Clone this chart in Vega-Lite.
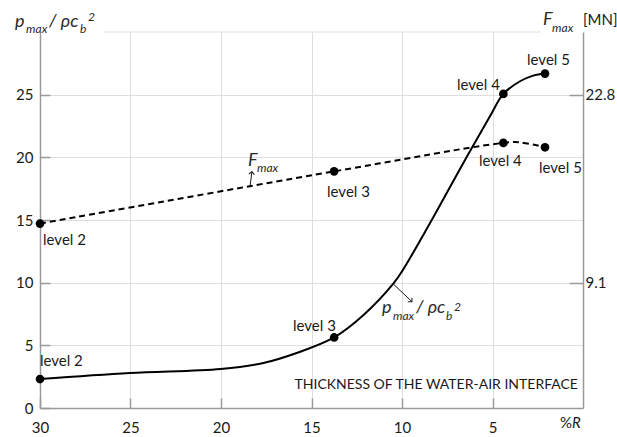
{
  "$schema": "https://vega.github.io/schema/vega-lite/v6.json",
  "width": 543,
  "height": 376,
  "autosize": {"type": "none"},
  "padding": {"left": 40, "top": 32, "right": 34, "bottom": 29},
  "background": "white",
  "config": {
    "view": {"stroke": null},
    "font": "Lato",
    "axis": {
      "labelFont": "Lato",
      "labelFontSize": 15,
      "labelColor": "#1a1a1a",
      "domainColor": "#9a9a9a",
      "domainWidth": 1.5,
      "tickColor": "#9a9a9a",
      "tickWidth": 1.5,
      "gridColor": "#dedede",
      "gridWidth": 1
    },
    "text": {"font": "Lato", "color": "#1a1a1a", "align": "left", "baseline": "alphabetic"}
  },
  "datasets": {
    "pCurve": [
      {"pctR": 30, "p": 2.31},
      {"pctR": 25.03, "p": 2.79},
      {"pctR": 20.02, "p": 3.11},
      {"pctR": 17.66, "p": 3.59},
      {"pctR": 15.82, "p": 4.39},
      {"pctR": 13.75, "p": 5.63},
      {"pctR": 12.14, "p": 7.4},
      {"pctR": 10.48, "p": 9.92},
      {"pctR": 10, "p": 10.9},
      {"pctR": 8.45, "p": 14.76},
      {"pctR": 6.61, "p": 19.55},
      {"pctR": 5.14, "p": 23.27},
      {"pctR": 4.4, "p": 25.06},
      {"pctR": 3.48, "p": 26.07},
      {"pctR": 2.75, "p": 26.52},
      {"pctR": 2.1, "p": 26.68}
    ],
    "pLevels": [
      {"label": "level 2", "pctR": 30, "p": 2.31, "labelR": 30, "labelP": 3.38},
      {"label": "level 3", "pctR": 13.75, "p": 5.63, "labelR": 16.02, "labelP": 6.17},
      {"label": "level 4", "pctR": 4.4, "p": 25.06, "labelR": 6.96, "labelP": 25.4},
      {"label": "level 5", "pctR": 2.1, "p": 26.68, "labelR": 3.09, "labelP": 27.4}
    ],
    "fCurve": [
      {"pctR": 30, "F": 13.42},
      {"pctR": 13.75, "F": 17.22},
      {"pctR": 4.4, "F": 19.29},
      {"pctR": 3.48, "F": 19.33},
      {"pctR": 2.1, "F": 18.97}
    ],
    "fLevels": [
      {"label": "level 2", "pctR": 30, "F": 13.42, "labelR": 29.83, "labelF": 11.88},
      {"label": "level 3", "pctR": 13.75, "F": 17.22, "labelR": 14.14, "labelF": 15.38},
      {"label": "level 4", "pctR": 4.4, "F": 19.29, "labelR": 5.75, "labelF": 17.64},
      {"label": "level 5", "pctR": 2.1, "F": 18.97, "labelR": 2.43, "labelF": 17.13}
    ],
    "frame": [
      {"from": 26.5, "to": 2.35, "p": 30}
    ],
    "arrows": [
      {"name": "p", "x1": 10.5, "y1": 9.92, "x2": 9.45, "y2": 8.48},
      {"name": "F", "x1": 18.4, "y1": 17.66, "x2": 18.29, "y2": 18.86}
    ],
    "notes": [
      {"kind": "symbol", "t": "p", "ax": 31.38, "ay": 30.43},
      {"kind": "symbol", "t": "/ ρc", "ax": 29.5, "ay": 30.43},
      {"kind": "symbol", "t": "F", "ax": 2.21, "ay": 30.59},
      {"kind": "symbol", "t": "p", "ax": 11.1, "ay": 7.61},
      {"kind": "symbol", "t": "/ ρc", "ax": 9.23, "ay": 7.61},
      {"kind": "symbol", "t": "F", "ax": 18.51, "ay": 19.34},
      {"kind": "index", "t": "max", "ax": 30.77, "ay": 29.95},
      {"kind": "index", "t": "b", "ax": 27.79, "ay": 29.95},
      {"kind": "index", "t": "2", "ax": 27.35, "ay": 30.91},
      {"kind": "index", "t": "max", "ax": 1.71, "ay": 30.03},
      {"kind": "index", "t": "max", "ax": 10.5, "ay": 7.05},
      {"kind": "index", "t": "b", "ax": 7.57, "ay": 7.05},
      {"kind": "index", "t": "2", "ax": 7.13, "ay": 7.77},
      {"kind": "index", "t": "max", "ax": 18.01, "ay": 18.86},
      {"kind": "unit", "t": "[MN]", "ax": 0, "ay": 30.59},
      {"kind": "unit", "t": "%", "ax": 1.27, "ay": -1.57},
      {"kind": "var", "t": "R", "ax": 0.61, "ay": -1.57},
      {"kind": "caption", "t": "THICKNESS OF THE WATER-AIR INTERFACE", "ax": 0.28, "ay": 1.54}
    ]
  },
  "resolve": {"scale": {"y": "independent"}},
  "layer": [
    {
      "layer": [
        {
          "data": {"name": "pCurve"},
          "mark": {"type": "line", "interpolate": "catmull-rom", "color": "black", "strokeWidth": 2},
          "encoding": {
            "x": {
              "field": "pctR", "type": "quantitative", "title": null,
              "scale": {"domain": [0, 30], "reverse": true, "nice": false, "zero": false},
              "axis": {"values": [30, 25, 20, 15, 10, 5], "grid": true, "tickSize": -10, "labelPadding": 22, "labelFlush": false, "labelOverlap": false}
            },
            "y": {
              "field": "p", "type": "quantitative", "title": null,
              "scale": {"domain": [0, 30], "nice": false},
              "axis": {"orient": "left", "values": [0, 5, 10, 15, 20, 25], "grid": true, "tickSize": -10, "labelPadding": 17, "labelFlush": false}
            },
            "order": {"field": "pctR", "sort": "descending"}
          }
        },
        {
          "data": {"name": "pLevels"},
          "mark": {"type": "point", "filled": true, "color": "black", "size": 75, "opacity": 1},
          "encoding": {
            "x": {"field": "pctR", "type": "quantitative", "title": null},
            "y": {"field": "p", "type": "quantitative", "title": null}
          }
        },
        {
          "data": {"name": "pLevels"},
          "mark": {"type": "text", "fontSize": 15},
          "encoding": {
            "x": {"field": "labelR", "type": "quantitative", "title": null},
            "y": {"field": "labelP", "type": "quantitative", "title": null},
            "text": {"field": "label"}
          }
        },
        {
          "data": {"name": "frame"},
          "mark": {"type": "rule", "color": "#dedede", "strokeWidth": 1},
          "encoding": {
            "x": {"field": "from", "type": "quantitative", "title": null},
            "x2": {"field": "to"},
            "y": {"field": "p", "type": "quantitative", "title": null}
          }
        },
        {
          "data": {"name": "arrows"},
          "mark": {"type": "rule", "color": "#1a1a1a", "strokeWidth": 1},
          "encoding": {
            "x": {"field": "x1", "type": "quantitative", "title": null},
            "y": {"field": "y1", "type": "quantitative", "title": null},
            "x2": {"field": "x2"},
            "y2": {"field": "y2"}
          }
        },
        {
          "data": {"name": "arrows"},
          "transform": [{"filter": "datum.name === 'p'"}],
          "mark": {"type": "point", "shape": "M-1,1L0,0L1,1", "filled": false, "stroke": "#1a1a1a", "strokeWidth": 1, "size": 30, "angle": 135, "opacity": 1},
          "encoding": {
            "x": {"field": "x2", "type": "quantitative", "title": null},
            "y": {"field": "y2", "type": "quantitative", "title": null}
          }
        },
        {
          "data": {"name": "arrows"},
          "transform": [{"filter": "datum.name === 'F'"}],
          "mark": {"type": "point", "shape": "M-1,1L0,0L1,1", "filled": false, "stroke": "#1a1a1a", "strokeWidth": 1, "size": 30, "angle": 7, "opacity": 1},
          "encoding": {
            "x": {"field": "x2", "type": "quantitative", "title": null},
            "y": {"field": "y2", "type": "quantitative", "title": null}
          }
        },
        {
          "data": {"name": "notes"},
          "transform": [{"filter": "datum.kind === 'symbol'"}],
          "mark": {"type": "text", "fontSize": 18, "fontStyle": "italic", "color": "#2a2a2a"},
          "encoding": {
            "x": {"field": "ax", "type": "quantitative", "title": null},
            "y": {"field": "ay", "type": "quantitative", "title": null},
            "text": {"field": "t"}
          }
        },
        {
          "data": {"name": "notes"},
          "transform": [{"filter": "datum.kind === 'index'"}],
          "mark": {"type": "text", "fontSize": 12, "fontStyle": "italic", "color": "#2a2a2a"},
          "encoding": {
            "x": {"field": "ax", "type": "quantitative", "title": null},
            "y": {"field": "ay", "type": "quantitative", "title": null},
            "text": {"field": "t"}
          }
        },
        {
          "data": {"name": "notes"},
          "transform": [{"filter": "datum.kind === 'unit'"}],
          "mark": {"type": "text", "fontSize": 15},
          "encoding": {
            "x": {"field": "ax", "type": "quantitative", "title": null},
            "y": {"field": "ay", "type": "quantitative", "title": null},
            "text": {"field": "t"}
          }
        },
        {
          "data": {"name": "notes"},
          "transform": [{"filter": "datum.kind === 'var'"}],
          "mark": {"type": "text", "fontSize": 15, "fontStyle": "italic"},
          "encoding": {
            "x": {"field": "ax", "type": "quantitative", "title": null},
            "y": {"field": "ay", "type": "quantitative", "title": null},
            "text": {"field": "t"}
          }
        },
        {
          "data": {"name": "notes"},
          "transform": [{"filter": "datum.kind === 'caption'"}],
          "mark": {"type": "text", "fontSize": 14, "align": "right"},
          "encoding": {
            "x": {"field": "ax", "type": "quantitative", "title": null},
            "y": {"field": "ay", "type": "quantitative", "title": null},
            "text": {"field": "t"}
          }
        }
      ]
    },
    {
      "layer": [
        {
          "data": {"name": "fCurve"},
          "mark": {"type": "line", "interpolate": "catmull-rom", "color": "black", "strokeWidth": 2, "strokeDash": [6, 4]},
          "encoding": {
            "x": {"field": "pctR", "type": "quantitative", "title": null},
            "y": {
              "field": "F", "type": "quantitative", "title": null,
              "scale": {"domain": [0, 27.36], "nice": false},
              "axis": {"orient": "right", "values": [9.1, 22.8], "format": ".1f", "grid": false, "tickSize": -14, "labelPadding": 16, "labelFlush": false}
            },
            "order": {"field": "pctR", "sort": "descending"}
          }
        },
        {
          "data": {"name": "fLevels"},
          "mark": {"type": "point", "filled": true, "color": "black", "size": 75, "opacity": 1},
          "encoding": {
            "x": {"field": "pctR", "type": "quantitative", "title": null},
            "y": {"field": "F", "type": "quantitative", "title": null}
          }
        },
        {
          "data": {"name": "fLevels"},
          "mark": {"type": "text", "fontSize": 15},
          "encoding": {
            "x": {"field": "labelR", "type": "quantitative", "title": null},
            "y": {"field": "labelF", "type": "quantitative", "title": null},
            "text": {"field": "label"}
          }
        }
      ]
    }
  ]
}
